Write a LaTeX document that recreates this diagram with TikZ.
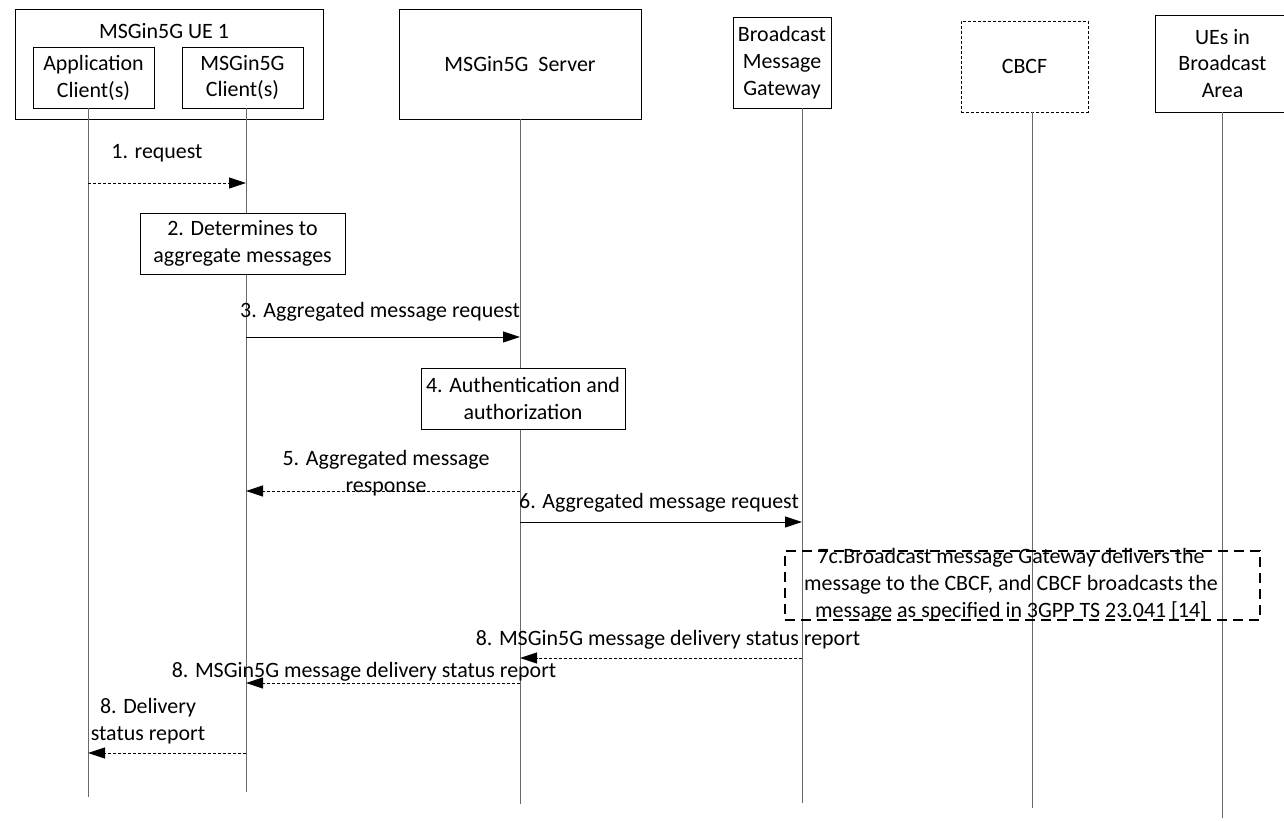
\documentclass[tikz,border=0pt]{standalone}
\usepackage{fontspec}
\setmainfont{Carlito}
\usetikzlibrary{arrows.meta,calc}
\definecolor{lifecol}{RGB}{105,105,105}

\begin{document}
\begin{tikzpicture}[x=1bp,y=-1bp,font=\fontsize{22}{27}\selectfont,
  entity/.style={draw,line width=0.9bp,align=center,inner sep=0pt,fill=white},
  lifeline/.style={lifecol,line width=1bp},
  msg/.style={-{Triangle[length=17bp,width=11bp]},line width=0.8bp},
  reply/.style={msg,dash pattern=on 3bp off 2bp},
  lbl/.style={align=center,inner sep=0pt}]
  \useasboundingbox (0,0) rectangle (1284,821);
  % lifeline ends
  \coordinate (appEnd) at (88,797);
  \coordinate (cliEnd) at (246,792);
  \coordinate (srvEnd) at (520,804);
  \coordinate (bmgEnd) at (802,803);
  \coordinate (cbcEnd) at (1032,808);
  \coordinate (uesEnd) at (1222,818);
  % entities
  \node[entity,minimum width=308bp,minimum height=110bp] (ue) at (169,64) {};
  \node[lbl] (uetitle) at (164,31) {MSGin5G UE 1};
  \node[entity,minimum width=121bp,minimum height=61bp] (app) at (93.5,77.5) {Application\\Client(s)};
  \node[entity,minimum width=121bp,minimum height=61bp] (cli) at (242.5,77.5) {MSGin5G\\Client(s)};
  \node[entity,minimum width=242bp,minimum height=110bp] (srv) at (520,64) {MSGin5G\ \ Server};
  \node[entity,minimum width=98bp,minimum height=91bp] (bmg) at (782,62.5) {Broadcast\\Message\\Gateway};
  \node[entity,dash pattern=on 3bp off 2bp,minimum width=127bp,minimum height=91bp] (cbc) at (1024.5,66.5) {CBCF};
  \node[entity,minimum width=135bp,minimum height=97bp] (ues) at (1222.5,63.5) {UEs in\\Broadcast\\Area};
  % lifelines
  \draw[lifeline] (app.south -| appEnd) -- (appEnd);
  \draw[lifeline] (cli.south -| cliEnd) -- (cliEnd);
  \draw[lifeline] (srv.south -| srvEnd) -- (srvEnd);
  \draw[lifeline] (bmg.south -| bmgEnd) -- (bmgEnd);
  \draw[lifeline] (cbc.south -| cbcEnd) -- (cbcEnd);
  \draw[lifeline] (ues.south -| uesEnd) -- (uesEnd);
  % 1
  \coordinate (m1s) at (88,183);
  \coordinate (m1e) at (246,183);
  \draw[reply] (m1s) -- (m1e);
  \node[lbl] (m1l) at (157,153) {1. request};
  % 2
  \node[entity,minimum width=205bp,minimum height=61bp] (s2) at (242.5,243.5) {2. Determines to\\aggregate messages};
  % 3
  \coordinate (m3s) at (246,337);
  \coordinate (m3e) at (520,337);
  \draw[msg] (m3s) -- (m3e);
  \node[lbl] (m3l) at (380,312) {3. Aggregated message request};
  % 4
  \node[entity,minimum width=204bp,minimum height=61bp] (s4) at (523,398.5) {4. Authentication and\\authorization};
  % 5
  \coordinate (m5s) at (520,491);
  \coordinate (m5e) at (246,491);
  \draw[reply] (m5s) -- (m5e);
  \node[lbl] (m5l) at (386,473) {5. Aggregated message\\response};
  % 6
  \coordinate (m6s) at (520,522);
  \coordinate (m6e) at (802,522);
  \draw[msg] (m6s) -- (m6e);
  \node[lbl] (m6l) at (659,503) {6. Aggregated message request};
  % 7c
  \node[draw,line width=1.2bp,dash pattern=on 10bp off 6bp,inner sep=0pt,
    minimum width=475bp,minimum height=69bp] (s7) at (1022.5,585.5) {};
  \node[lbl] (s7l) at (1011,585) {7c.Broadcast message Gateway delivers the\\message to the CBCF, and CBCF broadcasts the\\message as specified in 3GPP TS 23.041 [14]};
  % 8
  \coordinate (m8as) at (802,658);
  \coordinate (m8ae) at (520,658);
  \draw[reply] (m8as) -- (m8ae);
  \node[lbl] (m8al) at (668,640) {8. MSGin5G message delivery status report};
  \coordinate (m8bs) at (520,683);
  \coordinate (m8be) at (246,683);
  \draw[reply] (m8bs) -- (m8be);
  \node[lbl] (m8bl) at (364,672) {8. MSGin5G message delivery status report};
  \coordinate (m8cs) at (246,753);
  \coordinate (m8ce) at (88,753);
  \draw[reply] (m8cs) -- (m8ce);
  \node[lbl] (m8cl) at (148,721) {8. Delivery\\status report};
\end{tikzpicture}
\end{document}
